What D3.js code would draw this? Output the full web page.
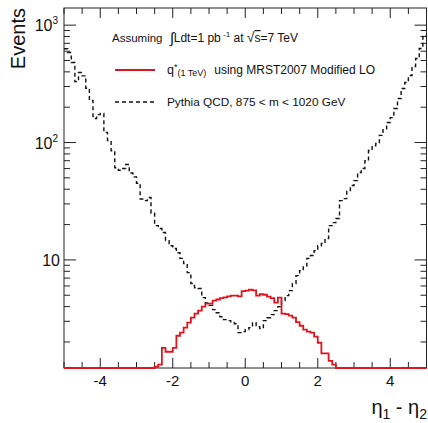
<!DOCTYPE html>
<html><head><meta charset="utf-8">
<script src="https://cdn.jsdelivr.net/npm/d3@7"></script>
<style>
html,body{margin:0;padding:0;background:#fff;}
svg{display:block;font-family:"Liberation Sans",Arial,Helvetica,sans-serif;}
</style>
</head><body>
<svg id="chart" width="428" height="423"></svg>
<script>
// ---- data ----
const binLow = -5;
const binWidth = 0.1;
// Pythia QCD, 875 < m < 1020 GeV  (100 bins from -5 to 5)
const qcdValues = [630,585,480,330,395,370,290,228,160,173,
  177,122,104,85,61,58,60,65,55,51,
  45,33,32,34,25,19.6,18.5,17.1,14.6,13.2,
  12.5,11.5,10.3,9.3,7.8,6.3,5.8,5.7,4.77,4.3,
  4.1,3.77,3.55,3.28,3.1,3.04,2.92,2.86,2.4,2.45,
  2.55,2.65,2.92,2.7,2.6,3.04,3.22,3.42,3.7,4.0,
  4.5,4.96,5.47,6.3,7.35,8.1,8.9,10.3,10.9,12.0,
  13.2,13.8,15.2,19.6,20.8,22.5,32,33.3,39,43,
  47.4,55.5,60,70,85.5,94,98,115,131,148,
  163,195,237,289,325,372,445,520,633,817];
// q*(1 TeV) using MRST2007 Modified LO
const qstarValues = [0,0,0,0,0,0,0,0,0,0,
  0,0,0,0,0,0,0,0,0,0,
  0,0,0,0,0,1.23,1.28,1.78,1.65,1.65,
  1.78,2.26,2.4,2.65,2.92,3.22,3.49,3.7,4.0,4.24,
  4.24,4.5,4.6,4.72,4.8,4.9,4.96,4.96,4.9,5.42,
  5.47,5.57,5.5,4.96,5.1,5.05,4.86,4.72,4.33,4.77,
  3.49,3.45,3.35,3.22,2.95,2.75,2.55,2.45,2.4,2.22,
  1.97,1.6,1.6,1.38,1.28,0,0,0,0,0,
  0,0,0,0,0,0,0,0,0,0,
  0,0,0,0,0,0,0,0,0,0];
const xDomain = [-5, 5];
const yDomain = [1.2, 1400];
const xTickLabels = [-4, -2, 0, 2, 4];
const yMajorTicks = [10, 100, 1000];
const yMajorLabels = [["10",""],["10","2"],["10","3"]];
const yMinorMultipliers = [2,3,4,5,6,7,8,9];

// ---- layout ----
const svg = d3.select("#chart");
const frame = {left:64, right:426.5, top:8, bottom:368};
const x = d3.scaleLinear().domain(xDomain).range([frame.left, frame.right]);
const y = d3.scaleLog().domain(yDomain).range([frame.bottom, frame.top]);
const axisColor = "#222";

// frame
svg.append("rect").attr("x", frame.left).attr("y", frame.top)
  .attr("width", frame.right-frame.left).attr("height", frame.bottom-frame.top)
  .attr("fill","none").attr("stroke",axisColor).attr("stroke-width",1);

// x ticks (bottom & top, inside)
const xt = x.ticks(20);
const gx = svg.append("g").attr("stroke",axisColor).attr("stroke-width",1);
xt.forEach(t => {
  const major = xTickLabels.includes(t);
  const len = major ? 10 : 6;
  gx.append("line").attr("x1",x(t)).attr("x2",x(t)).attr("y1",frame.bottom).attr("y2",frame.bottom-len);
  gx.append("line").attr("x1",x(t)).attr("x2",x(t)).attr("y1",frame.top).attr("y2",frame.top+len);
});
svg.append("g").selectAll("text").data(xTickLabels).join("text")
  .attr("x", d=>x(d)).attr("y", 386).attr("text-anchor","middle")
  .attr("font-size",15).attr("fill","#111").text(d=>d);

// y ticks
const gy = svg.append("g").attr("stroke",axisColor).attr("stroke-width",1);
const minorY = [];
[1,10,100,1000].forEach(dec => yMinorMultipliers.forEach(mu => {
  const v = dec*mu; if (v>=yDomain[0] && v<=yDomain[1]) minorY.push(v);
}));
minorY.forEach(v => {
  gy.append("line").attr("x1",frame.left).attr("x2",frame.left+6).attr("y1",y(v)).attr("y2",y(v));
  gy.append("line").attr("x1",frame.right).attr("x2",frame.right-6).attr("y1",y(v)).attr("y2",y(v));
});
yMajorTicks.forEach(v => {
  gy.append("line").attr("x1",frame.left).attr("x2",frame.left+12).attr("y1",y(v)).attr("y2",y(v));
  gy.append("line").attr("x1",frame.right).attr("x2",frame.right-12).attr("y1",y(v)).attr("y2",y(v));
});
yMajorTicks.forEach((v,i) => {
  const [base, sup] = yMajorLabels[i];
  const t = svg.append("text").attr("font-size",16).attr("fill","#111")
    .attr("text-anchor","end").attr("x", sup ? 58 : 60).attr("y", y(v)+6);
  t.append("tspan").text(base);
  if (sup) t.append("tspan").attr("font-size",10).attr("dy",-7).text(sup);
});

// axis titles
svg.append("text").attr("transform",`translate(25,8) rotate(-90)`)
  .attr("text-anchor","end").attr("font-size",20).attr("fill","#111").text("Events");
const xt2 = svg.append("text").attr("x",427).attr("y",414).attr("text-anchor","end")
  .attr("font-size",20).attr("fill","#111");
xt2.append("tspan").text("η");
xt2.append("tspan").attr("font-size",14).attr("dy",5).text("1");
xt2.append("tspan").attr("dy",-5).text(" - η");
xt2.append("tspan").attr("font-size",14).attr("dy",5).text("2");

// ---- histograms ----
function stepPoints(vals){
  const pts = [];
  vals.forEach((v,i) => {
    const a = binLow + i*binWidth, b = a + binWidth;
    const vv = Math.max(v, yDomain[0]);
    pts.push([a,vv],[b,vv]);
  });
  return pts;
}
const line = d3.line().x(d=>x(d[0])).y(d=>y(d[1]));
svg.append("path").attr("d", line(stepPoints(qcdValues)))
  .attr("fill","none").attr("stroke","#111").attr("stroke-width",1.4)
  .attr("stroke-dasharray","4,3");
svg.append("path").attr("d", line(stepPoints(qstarValues)))
  .attr("fill","none").attr("stroke","#e0141e").attr("stroke-width",1.8);

// ---- legend ----
const lg = svg.append("g").attr("font-size",12).attr("fill","#111");
lg.append("text").attr("x",112).attr("y",42).attr("font-size",11.5).text("Assuming");
const t1 = lg.append("text").attr("x",298).attr("y",42).attr("text-anchor","end");
t1.append("tspan").attr("font-size",15).attr("dy",1).text("∫");
t1.append("tspan").attr("dy",-1).text("Ldt=1 pb");
t1.append("tspan").attr("font-size",8).attr("dy",-5).text(" -1");
t1.append("tspan").attr("dy",5).text(" at ");
t1.append("tspan").attr("font-size",14).text("√");
t1.append("tspan").style("text-decoration","overline").text("s");
t1.append("tspan").text("=7 TeV");

lg.append("line").attr("x1",115).attr("x2",155).attr("y1",70).attr("y2",70)
  .attr("stroke","#e0141e").attr("stroke-width",1.8);
const t2 = lg.append("text").attr("x",167).attr("y",74).attr("font-size",12.5);
t2.append("tspan").text("q");
t2.append("tspan").attr("font-size",9).attr("dy",-4).text("*");
t2.append("tspan").attr("font-size",9).attr("dy",6).text("(1 TeV)");
lg.append("text").attr("x",375).attr("y",74).attr("text-anchor","end").attr("font-size",12)
  .text("using MRST2007 Modified LO");

lg.append("line").attr("x1",115).attr("x2",155).attr("y1",102).attr("y2",102)
  .attr("stroke","#111").attr("stroke-width",1.4).attr("stroke-dasharray","4,3");
lg.append("text").attr("x",167).attr("y",106).attr("font-size",11.8)
  .text("Pythia QCD, 875 < m < 1020 GeV");
</script>
</body></html>
